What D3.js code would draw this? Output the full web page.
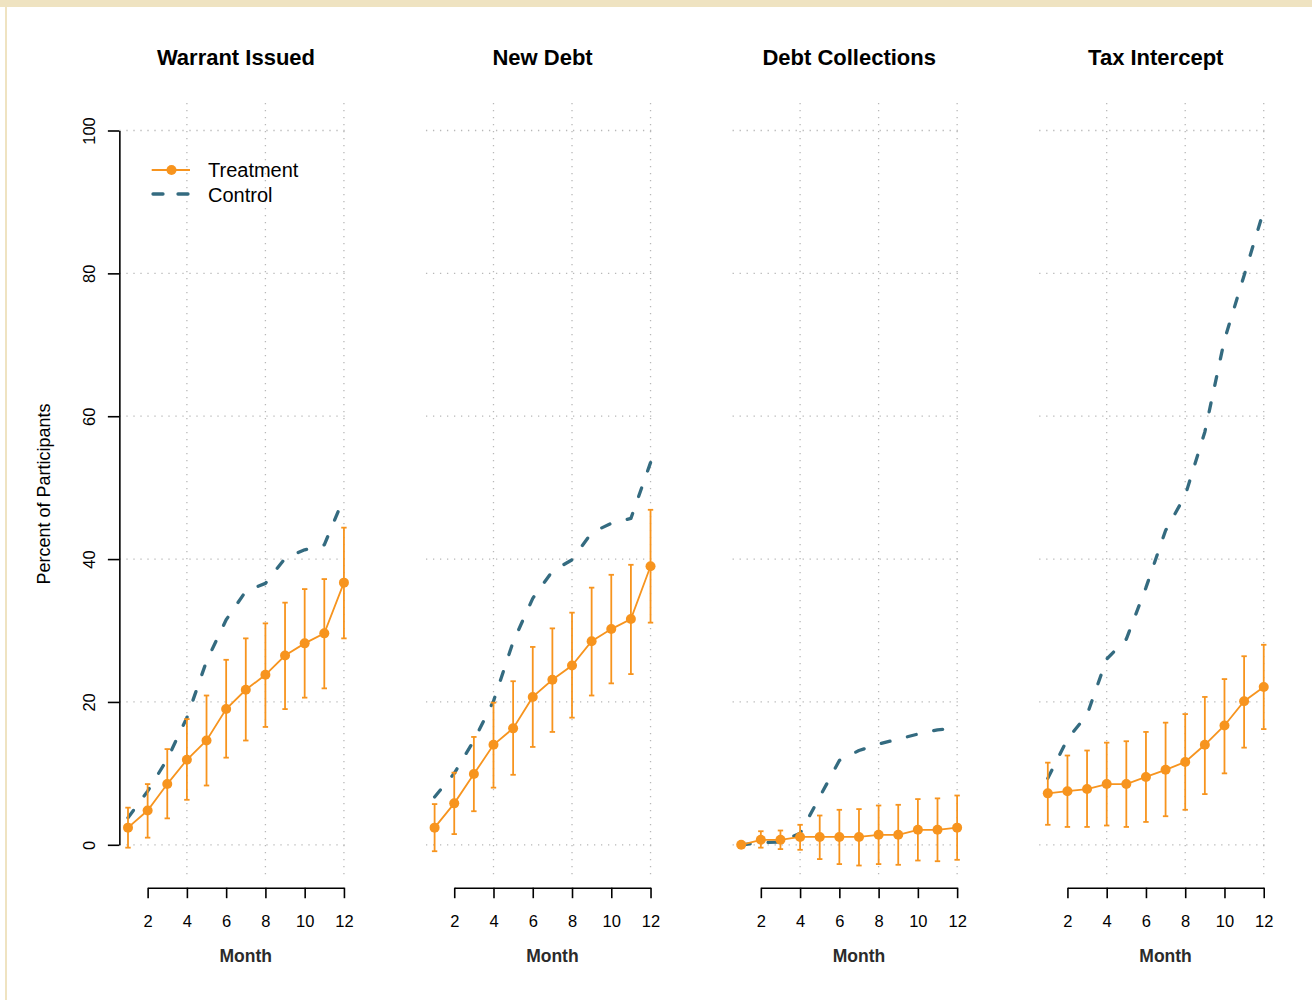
<!DOCTYPE html>
<html>
<head>
<meta charset="utf-8">
<script src="https://cdn.jsdelivr.net/npm/d3@7/dist/d3.min.js"></script>
<style>
  html, body { margin: 0; padding: 0; background: #ffffff; }
  svg { display: block; font-family: "Liberation Sans", Arial, Helvetica, sans-serif; }
</style>
</head>
<body>
<svg id="chart" width="1312" height="1000"></svg>
<script>
// ---- data -------------------------------------------------------------
const months = [1, 2, 3, 4, 5, 6, 7, 8, 9, 10, 11, 12];
const monthTicks = [2, 4, 6, 8, 10, 12];
const gridMonths = [4, 8, 12];
const percentTicks = [0, 20, 40, 60, 80, 100];
const panelTitles = ["Warrant Issued", "New Debt", "Debt Collections", "Tax Intercept"];
const seriesNames = ["Treatment", "Control"];

// Warrant Issued
const warrantTreatment = [2.4, 4.8, 8.5, 11.9, 14.6, 19.0, 21.7, 23.8, 26.5, 28.2, 29.6, 36.7];
const warrantLower     = [-0.4, 1.0, 3.7, 6.3, 8.3, 12.2, 14.6, 16.5, 19.0, 20.6, 21.9, 28.9];
const warrantUpper     = [5.2, 8.5, 13.4, 17.6, 20.9, 25.9, 28.9, 31.0, 33.9, 35.8, 37.2, 44.4];
const warrantControl   = [3.8, 7.5, 12.0, 17.8, 25.7, 31.5, 35.5, 36.6, 40.1, 41.3, 42.0, 48.6];

// New Debt
const debtTreatment = [2.4, 5.8, 9.9, 14.0, 16.3, 20.7, 23.1, 25.1, 28.5, 30.2, 31.6, 39.0];
const debtLower     = [-0.9, 1.5, 4.7, 8.0, 9.8, 13.7, 15.8, 17.8, 20.9, 22.6, 23.9, 31.1];
const debtUpper     = [5.7, 10.1, 15.1, 19.9, 22.9, 27.7, 30.3, 32.5, 36.0, 37.8, 39.2, 46.9];
const debtControl   = [6.7, 10.0, 14.6, 20.1, 28.4, 34.5, 38.3, 39.9, 43.7, 45.0, 45.7, 53.5];

// Debt Collections
const collectTreatment = [0.0, 0.7, 0.7, 1.1, 1.1, 1.1, 1.1, 1.4, 1.4, 2.1, 2.1, 2.4];
const collectLower     = [0.0, -0.4, -0.6, -0.7, -2.0, -2.7, -2.9, -2.7, -2.8, -2.2, -2.3, -2.1];
const collectUpper     = [0.0, 1.9, 2.0, 2.8, 4.1, 4.9, 5.0, 5.5, 5.6, 6.4, 6.5, 6.9];
const collectControl   = [0.0, 0.3, 0.4, 1.6, 6.7, 11.8, 13.2, 14.1, 14.8, 15.5, 16.1, 16.3];

// Tax Intercept
const taxTreatment = [7.2, 7.5, 7.8, 8.5, 8.5, 9.5, 10.5, 11.6, 14.0, 16.7, 20.1, 22.1];
const taxLower     = [2.8, 2.5, 2.5, 2.7, 2.5, 3.2, 4.0, 4.9, 7.1, 10.0, 13.6, 16.2];
const taxUpper     = [11.5, 12.5, 13.2, 14.3, 14.5, 15.8, 17.1, 18.3, 20.7, 23.2, 26.4, 28.0];
const taxControl   = [9.3, 14.8, 18.2, 26.0, 28.8, 36.0, 44.0, 48.9, 57.8, 70.7, 79.7, 88.8];

const panels = [
  { title: panelTitles[0], treat: warrantTreatment, lo: warrantLower, hi: warrantUpper, ctrl: warrantControl },
  { title: panelTitles[1], treat: debtTreatment,    lo: debtLower,    hi: debtUpper,    ctrl: debtControl },
  { title: panelTitles[2], treat: collectTreatment, lo: collectLower, hi: collectUpper, ctrl: collectControl },
  { title: panelTitles[3], treat: taxTreatment,     lo: taxLower,     hi: taxUpper,     ctrl: taxControl }
];

// ---- styling / layout -------------------------------------------------
const ORANGE = "#f7941e";
const TEAL = "#346b80";
const GRID = "#b8b8b8";
const FRAME = "#efe3c1";

const panelStep = 306.6;     // horizontal distance between panels
const firstMonthX = 128;     // x of month 1 in the first panel
const monthWidth = 19.63;    // pixels per month
const pad = 0.44 * monthWidth;

const y = d3.scaleLinear().domain([0, 100]).range([844.8, 130.5]);
const xAxisY = 887.7;

const svg = d3.select("#chart");

// page frame: band along the top and a thin rule on the left
svg.append("rect").attr("x", 0).attr("y", 0).attr("width", 1312).attr("height", 7).attr("fill", FRAME);
svg.append("rect").attr("x", 5).attr("y", 0).attr("width", 2).attr("height", 1000).attr("fill", FRAME);

const dashCtrl = "9 18";

panels.forEach((p, i) => {
  const x0 = firstMonthX + panelStep * i;
  const x = d3.scaleLinear().domain([1, 12]).range([x0, x0 + 11 * monthWidth]);
  const left = x(1) - pad, right = x(12) + pad;
  const g = svg.append("g").attr("class", "panel");

  // grid
  g.append("g").selectAll("line").data(percentTicks).join("line")
    .attr("x1", left).attr("x2", x(12) + 3)
    .attr("y1", d => y(d)).attr("y2", d => y(d))
    .attr("stroke", GRID).attr("stroke-width", 1.3).attr("stroke-dasharray", "1.3 5.7");
  g.append("g").selectAll("line").data(gridMonths).join("line")
    .attr("x1", d => x(d)).attr("x2", d => x(d))
    .attr("y1", 103).attr("y2", 880)
    .attr("stroke", GRID).attr("stroke-width", 1.3).attr("stroke-dasharray", "1.3 5.7");

  // title
  g.append("text")
    .attr("x", (left + right) / 2).attr("y", 65)
    .attr("text-anchor", "middle")
    .attr("font-size", 22).attr("font-weight", "bold").attr("fill", "#000")
    .text(p.title);

  // control (dashed)
  const line = d3.line().x((d, k) => x(months[k])).y(d => y(d));
  g.append("path")
    .attr("d", line(p.ctrl))
    .attr("fill", "none").attr("stroke", TEAL).attr("stroke-width", 3.3)
    .attr("stroke-dasharray", dashCtrl).attr("stroke-linecap", "round").attr("stroke-linejoin", "round");

  // treatment error bars
  const eb = g.append("g").attr("stroke", ORANGE).attr("stroke-width", 1.8);
  months.forEach((m, k) => {
    if (p.hi[k] === p.lo[k]) return;
    eb.append("line").attr("x1", x(m)).attr("x2", x(m)).attr("y1", y(p.lo[k])).attr("y2", y(p.hi[k]));
    eb.append("line").attr("x1", x(m) - 2.7).attr("x2", x(m) + 2.7).attr("y1", y(p.lo[k])).attr("y2", y(p.lo[k]));
    eb.append("line").attr("x1", x(m) - 2.7).attr("x2", x(m) + 2.7).attr("y1", y(p.hi[k])).attr("y2", y(p.hi[k]));
  });

  // treatment line + points
  g.append("path")
    .attr("d", line(p.treat))
    .attr("fill", "none").attr("stroke", ORANGE).attr("stroke-width", 1.8);
  g.append("g").selectAll("circle").data(p.treat).join("circle")
    .attr("cx", (d, k) => x(months[k])).attr("cy", d => y(d)).attr("r", 5)
    .attr("fill", ORANGE);

  // x axis spanning months 2..12
  const xAxisScale = x.copy().domain([2, 12]).range([x(2), x(12)]);
  const xa = g.append("g").attr("transform", `translate(0,${xAxisY})`)
    .call(d3.axisBottom(xAxisScale).tickValues(monthTicks).tickSize(10.5).tickSizeOuter(0));
  xa.select(".domain").attr("stroke", "#000").attr("stroke-width", 1.6);
  xa.selectAll(".tick line").attr("stroke", "#000").attr("stroke-width", 1.6);
  xa.selectAll(".tick text")
    .attr("y", 39.3).attr("dy", 0)
    .attr("font-family", "Liberation Sans, Arial, sans-serif")
    .attr("font-size", 16.5).attr("fill", "#000");

  g.append("text")
    .attr("x", (x(2) + x(12)) / 2).attr("y", 962)
    .attr("text-anchor", "middle")
    .attr("font-size", 17.5).attr("font-weight", "bold").attr("fill", "#2b2b2b")
    .text("Month");

  if (i === 0) {
    // y axis
    const ya = g.append("g").attr("transform", `translate(${left},0)`)
      .call(d3.axisLeft(y).tickValues(percentTicks).tickSize(11.5).tickSizeOuter(0));
    ya.select(".domain").attr("stroke", "#000").attr("stroke-width", 1.6);
    ya.selectAll(".tick line").attr("stroke", "#000").attr("stroke-width", 1.6);
    ya.selectAll(".tick text")
      .attr("x", 0).attr("dy", 0)
      .attr("transform", "translate(-24.4,0) rotate(-90)")
      .attr("text-anchor", "middle")
      .attr("font-family", "Liberation Sans, Arial, sans-serif")
      .attr("font-size", 16.5).attr("fill", "#000");

    g.append("text")
      .attr("transform", "translate(50,494) rotate(-90)")
      .attr("text-anchor", "middle")
      .attr("font-size", 18).attr("fill", "#000")
      .text("Percent of Participants");

    // legend
    const lg = g.append("g");
    lg.append("line").attr("x1", 151.7).attr("x2", 190).attr("y1", 170).attr("y2", 170)
      .attr("stroke", ORANGE).attr("stroke-width", 2.2);
    lg.append("circle").attr("cx", 171.5).attr("cy", 170).attr("r", 5).attr("fill", ORANGE);
    lg.append("line").attr("x1", 153).attr("x2", 190).attr("y1", 194).attr("y2", 194)
      .attr("stroke", TEAL).attr("stroke-width", 3.3)
      .attr("stroke-dasharray", "10 15").attr("stroke-linecap", "round");
    lg.selectAll("text").data(seriesNames).join("text")
      .attr("x", 208).attr("y", (d, k) => 177 + 24.5 * k)
      .attr("font-size", 20).attr("fill", "#000")
      .text(d => d);
  }
});
</script>
</body>
</html>
